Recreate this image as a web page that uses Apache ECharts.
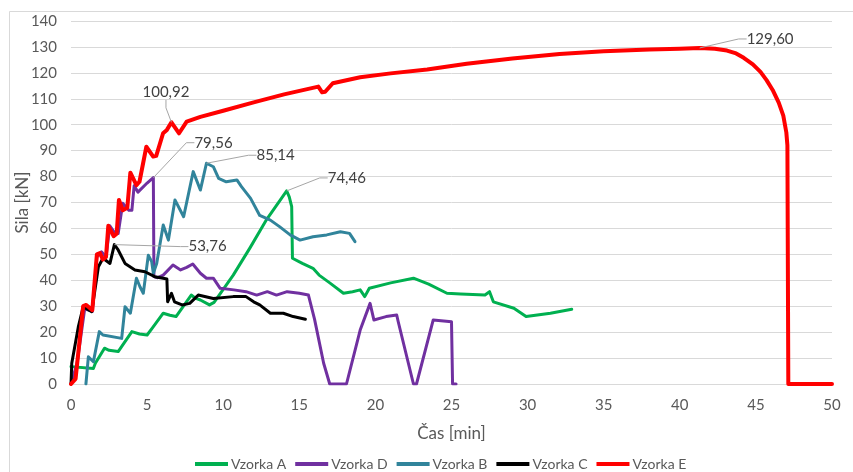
<!DOCTYPE html>
<html>
<head>
<meta charset="utf-8">
<script src="https://cdn.jsdelivr.net/npm/echarts@6/dist/echarts.min.js"></script>
<style>
  html, body { margin: 0; padding: 0; background: #fff; }
  #chart { width: 853px; height: 472px; }
</style>
</head>
<body>
<div id="chart"></div>
<script>
// Force [kN] against time [min] for five specimens
const seriesNames = ['Vzorka A', 'Vzorka D', 'Vzorka B', 'Vzorka C', 'Vzorka E'];
const seriesColors = ['#00b050', '#7030a0', '#31849b', '#000000', '#ff0000'];

const timeA = [0, 0.1, 1.47, 1.6, 2.2, 2.5, 3.1, 4.0, 4.5, 5.0, 5.4, 6.06, 6.5, 6.9, 7.9, 8.2, 8.5, 9.1, 9.4, 10.66, 11.76, 12.86, 14.17, 14.34, 14.5, 14.55, 15.2, 15.9, 16.3, 17.0, 17.9, 18.5, 19.0, 19.3, 19.6, 21.0, 22.5, 23.5, 24.7, 25.6, 27.2, 27.5, 27.75, 29.1, 29.9, 31.5, 32.9];
const forceA = [6.7, 6.5, 6.0, 8.0, 13.8, 13.0, 12.5, 20.2, 19.3, 18.9, 22.0, 27.3, 26.5, 26.0, 34.3, 33.0, 32.4, 30.5, 31.5, 42.0, 52.5, 63.5, 74.46, 72.2, 68.4, 48.5, 46.5, 44.6, 42.0, 39.0, 35.0, 35.6, 36.3, 33.7, 36.9, 39.0, 40.8, 38.5, 35.0, 34.7, 34.3, 35.6, 31.7, 29.2, 26.0, 27.3, 28.8];

const timeD = [0, 0.4, 0.9, 1.4, 1.7, 2.0, 2.3, 2.55, 2.9, 3.1, 3.4, 3.8, 4.0, 4.15, 4.4, 5.0, 5.41, 5.45, 5.7, 6.06, 6.7, 7.2, 7.6, 8.0, 8.5, 8.9, 9.35, 9.8, 10.7, 11.5, 12.2, 12.9, 13.5, 14.2, 15.0, 15.6, 16.0, 16.6, 17.0, 18.1, 19.0, 19.65, 19.9, 20.7, 21.4, 21.5, 22.5, 22.7, 23.8, 25.0, 25.07, 25.3];
const forceD = [0, 8, 29, 28, 49, 51, 49, 61, 58, 58, 69.7, 67, 67, 76.5, 74, 77.5, 79.56, 41.4, 41.0, 42.0, 45.9, 44.0, 45.0, 46.3, 42.7, 40.8, 40.8, 36.9, 36.3, 35.6, 34.3, 35.6, 34.3, 35.6, 35.0, 34.3, 25.0, 8.0, 0, 0, 20.8, 31.1, 24.7, 26.0, 26.6, 24.0, 0, 0, 24.7, 24.0, 0, 0];

const timeB = [0.98, 1.14, 1.47, 1.86, 2.1, 3.33, 3.55, 3.9, 4.3, 4.53, 4.75, 5.08, 5.3, 5.41, 5.63, 6.06, 6.4, 6.83, 7.4, 8.03, 8.5, 8.9, 9.35, 9.7, 10.2, 10.9, 11.2, 11.8, 12.4, 13.1, 13.7, 14.4, 15.05, 15.9, 16.8, 17.7, 18.3, 18.66];
const forceB = [0, 10.5, 8.6, 20.2, 18.9, 17.6, 29.8, 27.3, 40.8, 37.5, 35.0, 49.7, 47.2, 42.7, 46.5, 61.3, 55.5, 71.0, 64.5, 81.9, 74.8, 85.14, 83.8, 79.3, 78.0, 78.7, 76.1, 71.6, 65.0, 63.2, 60.7, 57.5, 55.5, 56.8, 57.5, 58.7, 58.1, 54.9];

const timeC = [0, 0.05, 0.48, 0.8, 1.36, 1.8, 2.1, 2.56, 2.85, 3.1, 3.55, 4.2, 4.86, 5.5, 6.06, 6.3, 6.35, 6.6, 6.8, 7.3, 7.8, 8.36, 9.35, 10.66, 11.5, 12.0, 12.4, 13.1, 13.95, 14.6, 15.4];
const forceC = [0, 8, 22, 29.8, 27.9, 45.2, 48.5, 46.5, 53.76, 51.7, 46.5, 44.0, 43.3, 41.4, 40.8, 40.5, 31.7, 35.0, 31.7, 30.5, 31.1, 34.3, 33.0, 33.7, 33.7, 31.7, 30.5, 27.3, 27.3, 26.0, 25.0];

const timeE = [0, 0.3, 0.8, 1.0, 1.4, 1.7, 1.9, 2.1, 2.3, 2.45, 2.8, 3.0, 3.15, 3.4, 3.7, 3.9, 4.3, 4.5, 4.95, 5.4, 5.6, 6.05, 6.3, 6.6, 7.1, 7.6, 8.5, 10, 12, 14, 16.25, 16.5, 16.7, 17.2, 19, 21, 23.4, 26, 29, 32.1, 35, 38, 40, 41.3, 42.3, 43.1, 43.7, 44.2, 44.8, 45.3, 45.7, 46.1, 46.5, 46.8, 47.0, 47.07, 47.13, 50];
const forceE = [0, 2, 30, 30.5, 28.5, 50, 50.5, 48, 49, 61, 57, 58, 71, 67, 68, 81.5, 76.7, 78, 91.5, 87.7, 88, 96.7, 98, 100.92, 96.7, 101.2, 103, 105.4, 108.6, 111.7, 114.7, 112.5, 112.7, 116, 118.3, 119.8, 121.3, 123.5, 125.5, 127.3, 128.3, 129, 129.3, 129.6, 129.3, 128.6, 127.5, 125.8, 123.3, 120.4, 117.2, 113.4, 108.5, 103.5, 97, 92, 0, 0];

// Peak values annotated on the curves
const peakValues = [[74.46], [79.56], [85.14], [53.76], [100.92, 129.6]];

const xTicks = { min: 0, max: 50, interval: 5 };
const yTicks = { min: 0, max: 140, interval: 10 };

// label offsets (px) from the annotated point, keyed by label text
const labelOffsets = {
  '74,46': [37, -13],
  '79,56': [37, -35],
  '85,14': [46, -8],
  '53,76': [70, 2],
  '100,92': [-33, -30],
  '129,60': [43, -9]
};

const times = [timeA, timeD, timeB, timeC, timeE];
const forces = [forceA, forceD, forceB, forceC, forceE];
const widths = [3, 3, 3, 3, 4];
const fmt = v => v.toFixed(2).replace('.', ',');
const FONT = 'Lato, "Noto Sans", sans-serif';

const series = seriesNames.map((name, s) => {
  const data = times[s].map((t, i) => {
    const v = forces[s][i];
    const item = { value: [t, v] };
    if (peakValues[s].indexOf(v) !== -1) {
      item.symbol = 'circle';
      item.symbolSize = 0.1;
      item.label = {
        show: true,
        position: 'right',
        distance: 4,
        formatter: fmt(v),
        color: '#404040',
        fontSize: 15,
        fontFamily: FONT
      };
    }
    return item;
  });
  return {
    name,
    type: 'line',
    data,
    symbol: 'none',
    showSymbol: true,
    color: seriesColors[s],
    lineStyle: { width: widths[s], color: seriesColors[s], join: 'round', cap: 'round' },
    labelLine: { show: true, lineStyle: { color: '#a6a6a6', width: 1 }, length2: 8 },
    labelLayout: params => {
      const off = labelOffsets[params.text] || [0, 0];
      return { dx: off[0], dy: off[1] };
    },
    emphasis: { disabled: true },
    z: 2 + s
  };
});

const chart = echarts.init(document.getElementById('chart'), null, { renderer: 'canvas' });
chart.setOption({
  animation: false,
  backgroundColor: '#ffffff',
  graphic: [{
    type: 'rect',
    left: 7, top: 9,
    shape: { width: 870, height: 480 },
    style: { fill: 'none', stroke: '#d9d9d9', lineWidth: 1 },
    silent: true, z: -1
  }],
  grid: { left: 71, right: 21, top: 21, bottom: 88, containLabel: false, outerBoundsMode: 'none' },
  xAxis: {
    type: 'value',
    min: xTicks.min, max: xTicks.max, interval: xTicks.interval,
    name: 'Čas [min]',
    nameLocation: 'middle',
    nameGap: 41,
    nameMoveOverlap: false,
    nameTextStyle: { fontSize: 17, color: '#595959', fontFamily: FONT },
    axisLine: { show: false },
    axisTick: { show: false },
    axisLabel: { color: '#595959', fontSize: 15, fontFamily: FONT, margin: 14 },
    splitLine: { show: false }
  },
  yAxis: {
    type: 'value',
    min: yTicks.min, max: yTicks.max, interval: yTicks.interval,
    name: 'Sila [kN]',
    nameLocation: 'middle',
    nameGap: 40,
    nameMoveOverlap: false,
    nameTextStyle: { fontSize: 17, color: '#595959', fontFamily: FONT },
    axisLine: { show: false },
    axisTick: { show: false },
    axisLabel: { color: '#595959', fontSize: 15, fontFamily: FONT, margin: 14 },
    splitLine: { show: true, lineStyle: { color: '#d9d9d9', width: 1 } }
  },
  legend: {
    left: 190,
    top: 452,
    icon: 'rect',
    itemWidth: 33,
    itemHeight: 4,
    itemGap: 9,
    textStyle: { color: '#595959', fontSize: 14, fontFamily: FONT, padding: [0, 0, 0, -2] },
    data: seriesNames
  },
  series
});
</script>
</body>
</html>
